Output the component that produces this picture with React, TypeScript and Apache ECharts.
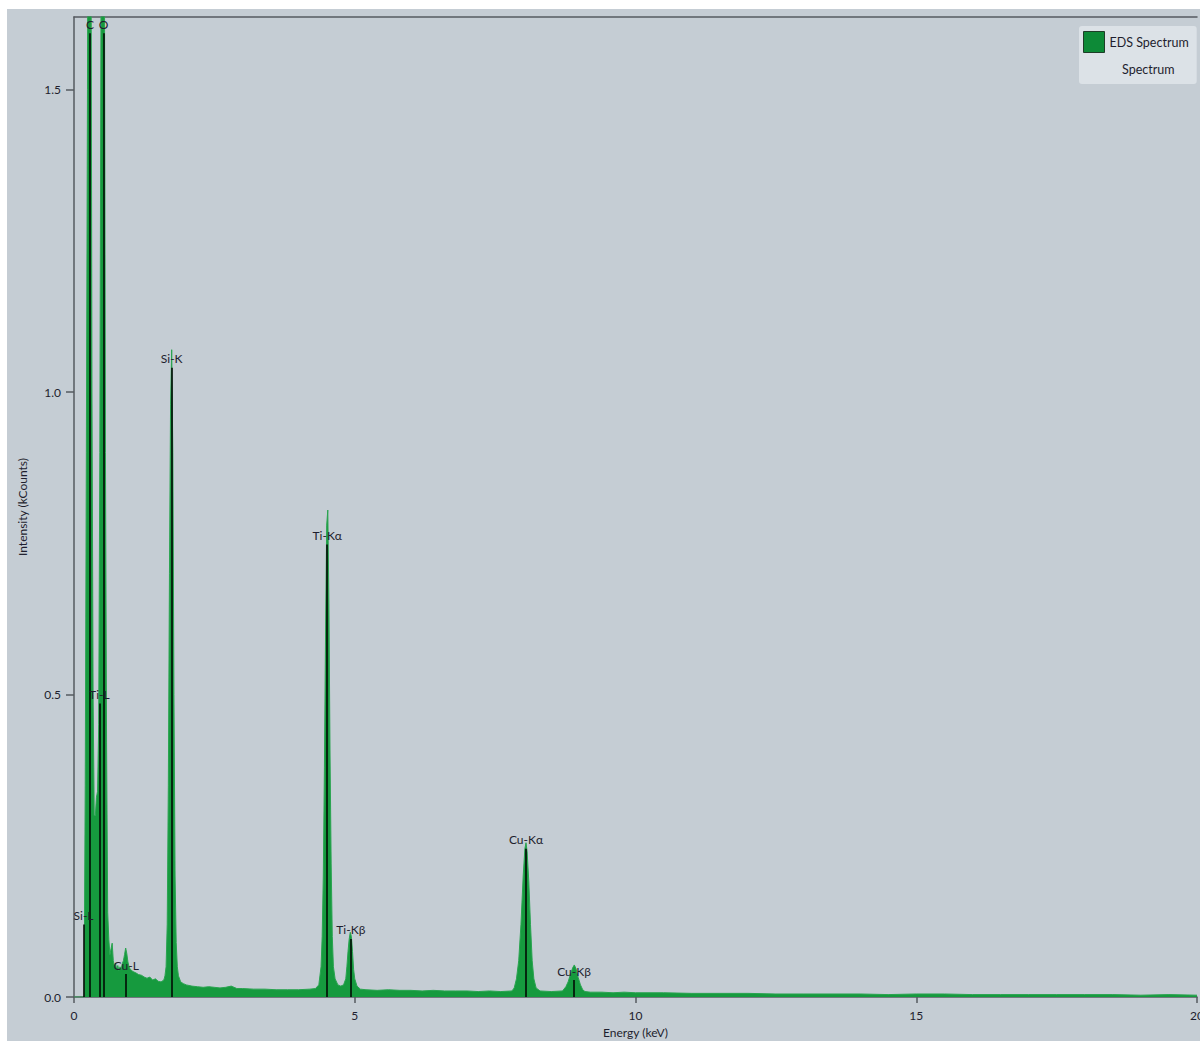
import React, { useEffect, useRef } from "react";
import * as echarts from "echarts";

// Spectrum: [energy keV, intensity kCounts]
const lowEnergy: [number, number][] = [
  [0, 0], [0.1, 0], [0.18, 0], [0.2, 0.35], [0.22, 0.9], [0.24, 1.5], [0.26, 2.4], [0.28, 2.8],
  [0.3, 1.9], [0.32, 1.0], [0.34, 0.5], [0.36, 0.3], [0.38, 0.3], [0.4, 0.33], [0.42, 0.34],
  [0.44, 0.45], [0.46, 0.9], [0.48, 1.6], [0.5, 3.0], [0.52, 3.2], [0.54, 1.8], [0.56, 0.9],
  [0.58, 0.42], [0.6, 0.14], [0.62, 0.095], [0.64, 0.07], [0.66, 0.08], [0.68, 0.089], [0.7, 0.06],
  [0.72, 0.05], [0.74, 0.056], [0.76, 0.045], [0.78, 0.052], [0.8, 0.044], [0.82, 0.05],
  [0.84, 0.046], [0.86, 0.055], [0.88, 0.06], [0.9, 0.07], [0.92, 0.081], [0.94, 0.072],
  [0.96, 0.058], [0.98, 0.05], [1.0, 0.046], [1.05, 0.042], [1.1, 0.04], [1.15, 0.037],
  [1.2, 0.036], [1.25, 0.033], [1.3, 0.031], [1.35, 0.033], [1.4, 0.028], [1.45, 0.03],
  [1.5, 0.026], [1.55, 0.025], [1.6, 0.028],
];
const siPeak: [number, number][] = [
  [1.62, 0.035], [1.64, 0.05], [1.66, 0.12], [1.68, 0.35], [1.7, 0.7], [1.72, 0.98], [1.74, 1.07],
  [1.76, 0.9], [1.78, 0.5], [1.8, 0.2], [1.82, 0.09], [1.84, 0.05], [1.86, 0.035], [1.9, 0.025],
];
const midBackground: [number, number][] = [
  [1.95, 0.022], [2.0, 0.02], [2.1, 0.018], [2.2, 0.017], [2.3, 0.016], [2.4, 0.017], [2.5, 0.016],
  [2.6, 0.015], [2.7, 0.016], [2.8, 0.018], [2.9, 0.014], [3.0, 0.014], [3.2, 0.013], [3.4, 0.013],
  [3.6, 0.012], [3.8, 0.012], [4.0, 0.012], [4.2, 0.013], [4.3, 0.014],
];
const tiPeaks: [number, number][] = [
  [4.36, 0.02], [4.4, 0.05], [4.42, 0.1], [4.44, 0.2], [4.46, 0.38], [4.48, 0.6], [4.5, 0.78],
  [4.52, 0.805], [4.54, 0.65], [4.56, 0.4], [4.58, 0.22], [4.6, 0.1], [4.62, 0.05], [4.65, 0.03],
  [4.7, 0.02], [4.75, 0.018], [4.8, 0.02], [4.84, 0.03], [4.86, 0.05], [4.88, 0.075], [4.9, 0.095],
  [4.92, 0.107], [4.94, 0.1], [4.96, 0.075], [4.98, 0.045], [5.0, 0.03], [5.04, 0.018], [5.1, 0.013],
];
const preCuBackground: [number, number][] = [
  [5.2, 0.012], [5.4, 0.011], [5.6, 0.012], [5.8, 0.011], [6.0, 0.011], [6.2, 0.01], [6.4, 0.011],
  [6.6, 0.01], [6.8, 0.01], [7.0, 0.01], [7.2, 0.009], [7.4, 0.01], [7.6, 0.009], [7.8, 0.01],
  [7.84, 0.015],
];
const cuPeaks: [number, number][] = [
  [7.88, 0.03], [7.92, 0.06], [7.96, 0.12], [8.0, 0.2], [8.03, 0.245], [8.05, 0.255], [8.07, 0.24],
  [8.1, 0.19], [8.13, 0.12], [8.16, 0.06], [8.19, 0.03], [8.23, 0.015], [8.3, 0.01], [8.5, 0.009],
  [8.7, 0.01], [8.76, 0.017], [8.8, 0.025], [8.84, 0.037], [8.88, 0.048], [8.91, 0.053],
  [8.94, 0.047], [8.98, 0.032], [9.02, 0.02], [9.06, 0.012], [9.1, 0.009],
];
const highBackground: [number, number][] = [
  [9.2, 0.008], [9.4, 0.008], [9.6, 0.007], [9.8, 0.008], [10.0, 0.007], [10.5, 0.007],
  [11.0, 0.006], [11.5, 0.006], [12.0, 0.006], [12.5, 0.005], [13.0, 0.005], [13.5, 0.005],
  [14.0, 0.005], [14.5, 0.004], [15.0, 0.005], [15.5, 0.005], [16.0, 0.004], [16.5, 0.004],
  [17.0, 0.004], [17.5, 0.004], [18.0, 0.004], [18.5, 0.004], [19.0, 0.003], [19.5, 0.004],
  [20.0, 0.003],
];

// Peak identification markers
const markerNames = ["Si-L", "C", "Ti-L", "O", "Cu-L", "Si-K", "Ti-Kα", "Ti-Kβ", "Cu-Kα", "Cu-Kβ"];
const markerEnergies = [0.17, 0.285, 0.452, 0.525, 0.93, 1.74, 4.51, 4.93, 8.05, 8.905];
const markerHeights = [0.12, 1.593, 0.485, 1.593, 0.038, 1.04, 0.748, 0.096, 0.245, 0.028];

const yTicks = [0, 0.5, 1.0, 1.5];
const seriesName = "EDS Spectrum";
const legendSubLabel = "Spectrum";

const FONT = "Lato";
const TEXT = "#1e1e2e";
const AXIS = "#555a60";

export default function App() {
  const ref = useRef<HTMLDivElement>(null);
  useEffect(() => {
    if (!ref.current) return;
    const chart = echarts.init(ref.current, null, { renderer: "svg" });
    const data = [
      ...lowEnergy, ...siPeak, ...midBackground, ...tiPeaks, ...preCuBackground, ...cuPeaks, ...highBackground,
    ];
    const markData = markerNames.map((n, i) => [
      { name: n, coord: [markerEnergies[i], 0] },
      { coord: [markerEnergies[i], markerHeights[i]] },
    ]);
    chart.setOption({
      animation: false,
      backgroundColor: "#c5cdd4",
      textStyle: { fontFamily: FONT },
      grid: { left: 67, top: 8, right: 3, bottom: 44, outerBoundsMode: "none", containLabel: false },
      legend: {
        data: [seriesName],
        left: 1072,
        top: 17,
        orient: "vertical",
        icon: "rect",
        itemWidth: 21,
        itemHeight: 21,
        itemGap: 0,
        padding: [5, 8, 31, 4],
        backgroundColor: "#dce2e7",
        borderRadius: 3,
        selectedMode: false,
        itemStyle: { color: "#0d8a37", borderColor: "#1e3d28", borderWidth: 1 },
        textStyle: { fontFamily: FONT, fontSize: 12.5, color: TEXT, padding: [0, 0, 0, 0] },
      },
      graphic: [
        {
          type: "text",
          left: 1115,
          top: 54,
          z: 100,
          style: { text: legendSubLabel, fontFamily: FONT, fontSize: 12.5, fill: TEXT },
        },
      ],
      xAxis: [
        {
          type: "value",
          min: 0,
          max: 20,
          interval: 5,
          name: "Energy (keV)",
          nameLocation: "middle",
          nameGap: 29,
          nameTextStyle: { fontFamily: FONT, fontSize: 12, color: TEXT },
          axisLine: { show: true, onZero: false, lineStyle: { color: AXIS, width: 1.5 } },
          axisTick: { show: true, length: 6, lineStyle: { color: AXIS, width: 1.5 } },
          axisLabel: { fontFamily: FONT, fontSize: 12, color: TEXT, margin: 12 },
          splitLine: { show: false },
        },
        {
          type: "value",
          position: "top",
          min: 0,
          max: 20,
          axisLine: { show: true, onZero: false, lineStyle: { color: AXIS, width: 1.5 } },
          axisTick: { show: false },
          axisLabel: { show: false },
          splitLine: { show: false },
        },
      ],
      yAxis: {
        type: "value",
        min: 0,
        max: 1.62,
        name: "Intensity (kCounts)",
        nameLocation: "middle",
        nameGap: 46,
        nameRotate: 90,
        nameTextStyle: { fontFamily: FONT, fontSize: 12, color: TEXT },
        axisLine: { show: true, onZero: false, lineStyle: { color: AXIS, width: 1.5 } },
        axisTick: { show: true, length: 8, customValues: yTicks, lineStyle: { color: AXIS, width: 1.5 } },
        axisLabel: {
          customValues: yTicks,
          fontFamily: FONT,
          fontSize: 12,
          color: TEXT,
          margin: 13,
          formatter: (v: number) => v.toFixed(1),
        },
        splitLine: { show: false },
      },
      series: [
        {
          name: seriesName,
          type: "line",
          data,
          showSymbol: false,
          symbol: "none",
          clip: true,
          itemStyle: { color: "#0d8a37" },
          lineStyle: { color: "#2aa450", width: 1 },
          areaStyle: { color: "#169a3e", opacity: 1 },
          markLine: {
            silent: true,
            symbol: ["none", "none"],
            lineStyle: { color: "#000000", width: 1.5, type: "solid" },
            label: {
              show: true,
              position: "end",
              formatter: "{b}",
              fontFamily: FONT,
              fontSize: 12,
              color: TEXT,
              distance: 3,
            },
            data: markData,
          },
        },
      ],
    });
    return () => chart.dispose();
  }, []);
  return (
    <div
      ref={ref}
      style={{ position: "absolute", left: 7, top: 9, width: 1193, height: 1032 }}
    />
  );
}
